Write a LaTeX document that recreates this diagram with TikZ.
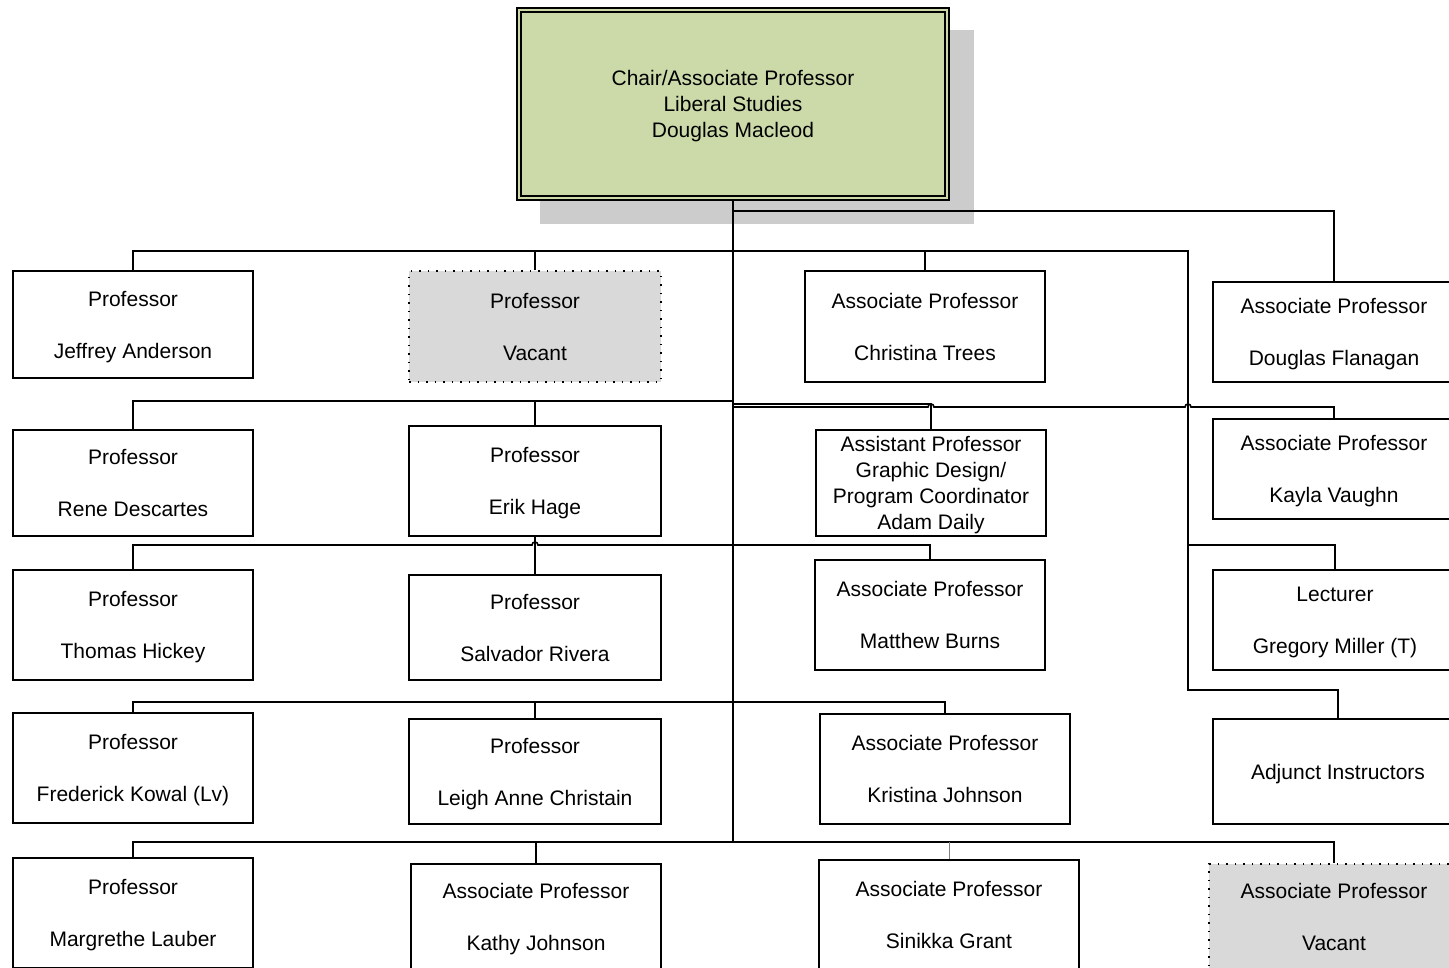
\documentclass[tikz,border=0pt]{standalone}
\usepackage{fontspec}
\setmainfont{Liberation Sans}
\definecolor{chairgreen}{RGB}{204,218,170}
\definecolor{shadowgray}{RGB}{204,204,204}
\definecolor{vacgray}{RGB}{217,217,217}
\begin{document}
\begin{tikzpicture}[x=1pt,y=-1pt,
  box/.style={draw, line width=1.5pt, fill=white, align=center, inner sep=0pt, text depth=0pt,
    font=\fontsize{21}{26}\selectfont},
  vac/.style={box, fill=vacgray, line width=1.5pt, dash pattern=on 1.5pt off 7pt},
  conn/.style={line width=1.6pt, line join=miter}]
\useasboundingbox (0,0) rectangle (1449,967);
\clip (0,0) rectangle (1449,967);
\fill[white] (0,0) rectangle (1449,967);

% chair with shadow
\fill[shadowgray] (540,30) rectangle (974,224);
\node[box, fill=chairgreen, line width=2pt, minimum width=432pt, minimum height=192pt] (chair) at (733,104)
  {Chair/Associate Professor\\Liberal Studies\\Douglas Macleod};
\draw[line width=1.2pt] ([shift={(5pt,-5pt)}]chair.north west) rectangle ([shift={(-5pt,5pt)}]chair.south east);

% column 1
\node[box, minimum width=240pt, minimum height=107pt] (jeff) at (133,324.5) {Professor\\[26pt]Jeffrey Anderson};
\node[box, minimum width=240pt, minimum height=106pt] (desc) at (133,483) {Professor\\[26pt]Rene Descartes};
\node[box, minimum width=240pt, minimum height=110pt] (hick) at (133,625) {Professor\\[26pt]Thomas Hickey};
\node[box, minimum width=240pt, minimum height=110pt] (kowal) at (133,768) {Professor\\[26pt]Frederick Kowal (Lv)};
\node[box, minimum width=240pt, minimum height=110pt] (laub) at (133,913) {Professor\\[26pt]Margrethe Lauber};

% column 2
\node[vac, minimum width=252pt, minimum height=111pt] (vac1) at (535,326.5) {Professor\\[26pt]Vacant};
\node[box, minimum width=252pt, minimum height=110pt] (hage) at (535,481) {Professor\\[26pt]Erik Hage};
\node[box, minimum width=252pt, minimum height=105pt] (rivera) at (535,627.5) {Professor\\[26pt]Salvador Rivera};
\node[box, minimum width=252pt, minimum height=105pt] (christain) at (535,771.5) {Professor\\[26pt]Leigh Anne Christain};
\node[box, minimum width=250pt, minimum height=105pt] (kathy) at (536,916.5) {Associate Professor\\[26pt]Kathy Johnson};

% column 3
\node[box, minimum width=240pt, minimum height=111pt] (trees) at (925,326.5) {Associate Professor\\[26pt]Christina Trees};
\node[box, minimum width=230pt, minimum height=106pt] (daily) at (931,483) {Assistant Professor\\Graphic Design/\\Program Coordinator\\Adam Daily};
\node[box, minimum width=230pt, minimum height=110pt] (burns) at (930,615) {Associate Professor\\[26pt]Matthew Burns};
\node[box, minimum width=250pt, minimum height=110pt] (kristina) at (945,769) {Associate Professor\\[26pt]Kristina Johnson};
\node[box, minimum width=260pt, minimum height=110pt] (grant) at (949,915) {Associate Professor\\[26pt]Sinikka Grant};

% column 4
\node[box, minimum width=242pt, minimum height=100pt] (flanagan) at (1334,332) {Associate Professor\\[26pt]Douglas Flanagan};
\node[box, minimum width=242pt, minimum height=100pt] (vaughn) at (1334,469) {Associate Professor\\[26pt]Kayla Vaughn};
\node[box, minimum width=244pt, minimum height=100pt] (miller) at (1335,620) {Lecturer\\[26pt]Gregory Miller (T)};
\node[box, minimum width=250pt, minimum height=105pt] (adjunct) at (1338,771.5) {Adjunct Instructors};
\node[vac, minimum width=250pt, minimum height=105pt] (vac2) at (1334,916.5) {Associate Professor\\[26pt]Vacant};

% connectors
\coordinate (trunkend) at (733,842);
\coordinate (right) at (1188,251);
\draw[conn] (chair.south) -- (trunkend);
\draw[conn] (chair.south |- 0,211) -| (flanagan.north);

% row 1
\draw[conn] (jeff.north) |- (right) -- (1188,690) -| (adjunct.north);
\draw[conn] (vac1.north) -- (vac1.north |- right);
\draw[conn] (trees.north) -- (trees.north |- right);
\draw[conn] (1188,545) -| (miller.north);

% row 2
\draw[conn] (desc.north) |- (733,401);
\draw[conn] (hage.north) -- (hage.north |- 0,401);
\draw[conn] (733,404) -| (daily.north);
\draw[conn] (733,407) -- (928,407) arc[start angle=180,end angle=0,radius=3pt]
  -- (1185,407) arc[start angle=180,end angle=0,radius=3pt] -| (vaughn.north);

% row 3
\draw[conn] (hick.north) |- (532,545) arc[start angle=180,end angle=0,radius=3pt] -| (burns.north);
\draw[conn] (hage.south) -- (rivera.north);

% row 4
\draw[conn] (kowal.north) |- (kristina.north |- 0,702) -- (kristina.north);
\draw[conn] (christain.north) -- (christain.north |- 0,702);

% row 5
\draw[conn] (laub.north) |- (vac2.north |- trunkend) -- (vac2.north);
\draw[conn] (kathy.north) -- (kathy.north |- trunkend);
\draw[line width=1pt, gray] (grant.north) -- (grant.north |- trunkend);
\end{tikzpicture}
\end{document}
